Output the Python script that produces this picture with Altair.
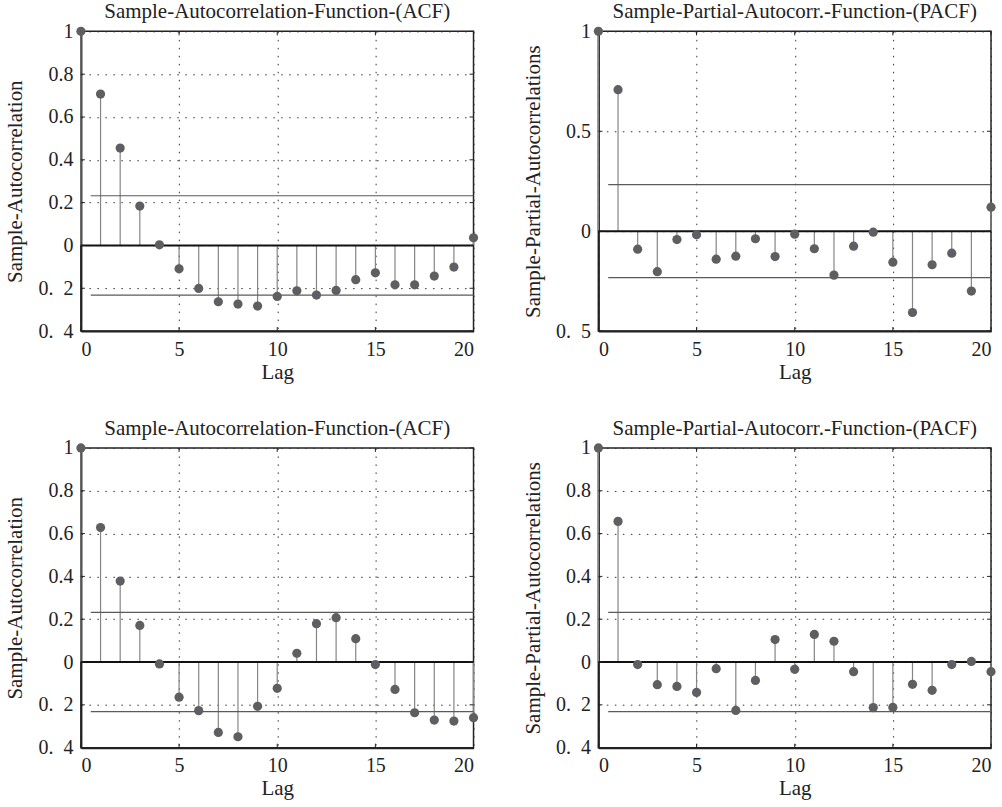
import altair as alt
import pandas as pd

lags = list(range(0, 21))

acf_top = [1.0, 0.707, 0.455, 0.184, 0.003, -0.109, -0.201, -0.263, -0.274, -0.283, -0.238,
           -0.212, -0.232, -0.210, -0.160, -0.128, -0.184, -0.184, -0.143, -0.101, 0.036]
pacf_top = [1.0, 0.708, -0.090, -0.203, -0.042, -0.018, -0.140, -0.125, -0.038, -0.127, -0.015,
            -0.088, -0.220, -0.075, -0.005, -0.155, -0.407, -0.168, -0.110, -0.300, 0.120]
acf_bot = [1.0, 0.628, 0.378, 0.171, -0.009, -0.164, -0.227, -0.329, -0.349, -0.207, -0.123,
           0.041, 0.179, 0.207, 0.109, -0.012, -0.128, -0.237, -0.271, -0.276, -0.260]
pacf_bot = [1.0, 0.657, -0.012, -0.106, -0.114, -0.142, -0.031, -0.226, -0.086, 0.105, -0.034,
            0.129, 0.097, -0.045, -0.213, -0.212, -0.104, -0.132, -0.012, 0.003, -0.045]

bound_top_acf = 0.232
bound_top_pacf = 0.233
bound_bot = 0.232

ticks_acf = [1, 0.8, 0.6, 0.4, 0.2, 0, -0.2, -0.4]
ticks_pacf_top = [1, 0.5, 0, -0.5]
ticks_pacf_bot = [1, 0.8, 0.6, 0.4, 0.2, 0, -0.2, -0.4]
x_ticks = [0, 5, 10, 15, 20]

title_acf = "Sample-Autocorrelation-Function-(ACF)"
title_pacf = "Sample-Partial-Autocorr.-Function-(PACF)"
ylab_acf = "Sample-Autocorrelation"
ylab_pacf = "Sample-Partial-Autocorrelations"
xlab = "Lag"

FONT = "Liberation Serif"
W, H = 393, 300
TL = 4  # inward tick length

label_expr = "datum.value < 0 ? '0.\u2002' + toString(round(-datum.value*10)) : toString(datum.value)"


def panel(values, bound, ydom, yticks, title, ytitle):
    df = pd.DataFrame({"lag": lags, "value": values})
    xenc = alt.X("lag:Q", scale=alt.Scale(domain=[0, 20], nice=False),
                 axis=alt.Axis(values=x_ticks, title=xlab, format="d"))
    yenc = alt.Y("value:Q", scale=alt.Scale(domain=ydom, nice=False, zero=False),
                 axis=alt.Axis(values=yticks, title=ytitle, labelExpr=label_expr))
    base = alt.Chart(df)
    stems = base.mark_rule(color="#858585", strokeWidth=1.2).encode(
        x=xenc, y=yenc, y2=alt.datum(0))
    zero = alt.Chart(pd.DataFrame({"z": [0]})).mark_rule(color="#111", strokeWidth=2).encode(
        y="z:Q", x=alt.value(0), x2=alt.value(W))
    bdf = pd.DataFrame({"b": [bound, -bound], "x0": [0.5, 0.5], "x1": [20, 20]})
    bounds = alt.Chart(bdf).mark_rule(color="#5a5a5a", strokeWidth=1.2).encode(
        y="b:Q", x="x0:Q", x2="x1:Q")
    xt = alt.Chart(pd.DataFrame({"t": x_ticks}))
    yt = alt.Chart(pd.DataFrame({"t": yticks}))
    tick_style = dict(color="#222", strokeWidth=1)
    xt_bot = xt.mark_rule(**tick_style).encode(x="t:Q", y=alt.value(H - TL), y2=alt.value(H))
    xt_top = xt.mark_rule(**tick_style).encode(x="t:Q", y=alt.value(0), y2=alt.value(TL))
    yt_left = yt.mark_rule(**tick_style).encode(y="t:Q", x=alt.value(0), x2=alt.value(TL))
    yt_right = yt.mark_rule(**tick_style).encode(y="t:Q", x=alt.value(W - TL), x2=alt.value(W))
    pts = base.mark_circle(color="#5f5f63", opacity=1, size=85).encode(x="lag:Q", y="value:Q")
    return alt.layer(stems, bounds, zero, xt_bot, xt_top, yt_left, yt_right, pts).properties(
        width=W, height=H,
        title=alt.TitleParams(title, fontSize=21, font=FONT, fontWeight="normal",
                              color="#222", offset=-1))


tl = panel(acf_top, bound_top_acf, [-0.4, 1], ticks_acf, title_acf, ylab_acf)
tr = panel(pacf_top, bound_top_pacf, [-0.5, 1], ticks_pacf_top, title_pacf, ylab_pacf)
bl = panel(acf_bot, bound_bot, [-0.4, 1], ticks_acf, title_acf, ylab_acf)
br = panel(pacf_bot, bound_bot, [-0.4, 1], ticks_pacf_bot, title_pacf, ylab_pacf)

chart = alt.concat(tl, tr, bl, br, columns=2, bounds="flush",
                   spacing=alt.RowColnumber(row=117, column=125)
                   ).properties(
    padding={"left": 4, "top": 0, "right": 5, "bottom": 0}
).configure_view(stroke="#222", strokeWidth=1.5).configure_axis(
    labelFont=FONT, titleFont=FONT, labelFontSize=20, titleFontSize=21,
    labelColor="#222", titleColor="#222", titleFontWeight="normal",
    domainColor="#222", domainWidth=2, ticks=False,
    grid=True, gridColor="#333", gridDash=[1.5, 6.5], gridWidth=1,
    labelPadding=8
).configure_axisY(titlePadding=12).configure_axisX(titlePadding=2)

chart.save("out.html", embed_options={"renderer": "svg", "actions": False})
